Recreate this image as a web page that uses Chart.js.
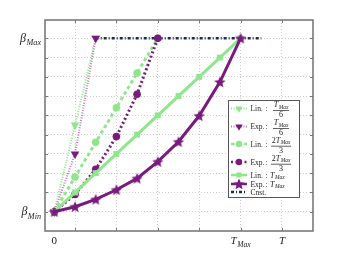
<!DOCTYPE html>
<html>
<head>
<meta charset="utf-8">
<script src="https://cdn.jsdelivr.net/npm/chart.js@4.4.0/dist/chart.umd.min.js"></script>
<style>
  html, body { margin: 0; padding: 0; background: #fff; }
  canvas { display: block; }
</style>
</head>
<body>
<canvas id="grafico" width="346" height="260"></canvas>
<script>
// datos (tiempo en unidades donde T_Max = 9, beta normalizado: beta_Min = 0, beta_Max = 9)
const xT6 = [0, 1, 2];
const linT6 = [0, 4.5, 9];
const expT6 = [0, 3, 9];

const x23 = [0, 1, 2, 3, 4, 5];
const lin23 = [0, 1.8, 3.6, 5.4, 7.2, 9];
const exp23 = [0, 0.9, 2.2, 3.9, 6.1, 9];

const xTmax = [0, 1, 2, 3, 4, 5, 6, 7, 8, 9];
const linTmax = [0, 1, 2, 3, 4, 5, 6, 7, 8, 9];
const expTmax = [0, 0.26, 0.64, 1.14, 1.73, 2.6, 3.63, 4.98, 6.73, 9];

const xCnst = [2, 10];
const cnst = [9, 9];

// ticks / grid
const xGrid = [1, 3, 5, 7, 9, 11];
const yGrid = [0, 1, 2, 3, 4, 5, 6, 7, 8, 9];
const xLabels = [{ v: 0, base: "0", sub: "" }, { v: 9, base: "T", sub: "Max" }, { v: 11, base: "T", sub: "" }];
const yLabels = [{ v: 9, base: "\u03b2", sub: "Max" }, { v: 0, base: "\u03b2", sub: "Min" }];

// leyenda
const legNames = ["Lin.", "Exp.", "Lin.", "Exp.", "Lin.", "Exp.", "Cnst."];
const legNum = ["T", "T", "2T", "2T", "", "", ""];
const legDen = ["6", "6", "3", "3", "", "", ""];
const legPlain = ["", "", "", "", "T", "T", ""];

let verde = "#90e68c";
let morado = "#7b1a7e";
let marino = "#1c2a58";
let serif = '"Liberation Serif", "DejaVu Serif", serif';

function estrella(color, r) {
  const c = document.createElement("canvas");
  const s = Math.ceil(r * 2 + 2);
  c.width = s;
  c.height = s;
  const g = c.getContext("2d");
  g.translate(s / 2, s / 2 + 0.5);
  g.beginPath();
  for (let i = 0; i < 10; i++) {
    const a = -Math.PI / 2 + (i * Math.PI) / 5;
    const rr = i % 2 ? r * 0.45 : r;
    g.lineTo(rr * Math.cos(a), rr * Math.sin(a));
  }
  g.closePath();
  g.fillStyle = color;
  g.fill();
  return c;
}

function puntos(xs, ys) {
  return xs.map((x, i) => ({ x: x, y: ys[i] }));
}

let datasets = [
  {
    label: "Lin. : T_Max/6",
    data: puntos(xT6, linT6),
    borderColor: verde, backgroundColor: verde,
    borderWidth: 2, borderDash: [1, 1.5],
    pointStyle: "triangle", rotation: 180, pointRadius: 5, pointBorderWidth: 0,
    order: 6,
  },
  {
    label: "Exp. : T_Max/6",
    data: puntos(xT6, expT6),
    borderColor: "#b77fb9", backgroundColor: morado,
    borderWidth: 2, borderDash: [1, 1.5],
    pointStyle: "triangle", rotation: 180, pointRadius: 5, pointBorderWidth: 0,
    order: 5,
  },
  {
    label: "Lin. : 2T_Max/3",
    data: puntos(x23, lin23),
    borderColor: verde, backgroundColor: verde,
    borderWidth: 3, borderDash: [3.5, 3],
    pointStyle: "circle", pointRadius: 3.8, pointBorderWidth: 0,
    order: 4,
  },
  {
    label: "Exp. : 2T_Max/3",
    data: puntos(x23, exp23),
    borderColor: morado, backgroundColor: morado,
    borderWidth: 3, borderDash: [2, 2.5],
    pointStyle: "circle", pointRadius: 3.8, pointBorderWidth: 0,
    order: 3,
  },
  {
    label: "Lin. : T_Max",
    data: puntos(xTmax, linTmax),
    borderColor: verde, backgroundColor: verde,
    borderWidth: 3,
    pointStyle: "rect", pointRadius: 4.2, pointBorderWidth: 0,
    order: 2,
  },
  {
    label: "Exp. : T_Max",
    data: puntos(xTmax, expTmax),
    borderColor: morado, backgroundColor: morado,
    borderWidth: 3,
    pointStyle: estrella(morado, 6), pointRadius: 5,
    order: 1,
  },
  {
    label: "Cnst.",
    data: puntos(xCnst, cnst),
    borderColor: marino, backgroundColor: marino,
    borderWidth: 2.5, borderDash: [3, 2, 1, 2],
    pointRadius: 0,
    order: 10,
  },
];

// texto con subindice (cursiva)
function mate(ctx, x, y, base, sub, size, align, bajada) {
  const fb = (/^\d+$/.test(base) ? "" : "italic ") + size + "px " + serif;
  const fs = "italic " + size * 0.68 + "px " + serif;
  ctx.font = fb;
  const wb = ctx.measureText(base).width;
  ctx.font = fs;
  const ws = sub ? ctx.measureText(sub).width + 0.5 : 0;
  const w = wb + ws;
  let x0 = x;
  if (align === "right") x0 = x - w;
  if (align === "center") x0 = x - w / 2;
  ctx.textAlign = "left";
  ctx.textBaseline = "alphabetic";
  ctx.font = fb;
  ctx.fillText(base, x0, y);
  if (sub) {
    ctx.font = fs;
    ctx.fillText(sub, x0 + wb + 0.5, y + (bajada === undefined ? size * 0.3 : bajada));
  }
  return w;
}

function anchoMate(ctx, base, sub, size) {
  ctx.font = "italic " + size + "px " + serif;
  const wb = ctx.measureText(base).width;
  ctx.font = "italic " + size * 0.68 + "px " + serif;
  return wb + (sub ? ctx.measureText(sub).width + 0.5 : 0);
}

const marco = {
  id: "marco",
  afterDraw(chart) {
    const ctx = chart.ctx;
    const a = chart.chartArea;
    const sx = chart.scales.x;
    const sy = chart.scales.y;
    ctx.save();

    // marco completo
    ctx.strokeStyle = "#7a7a7a";
    ctx.lineWidth = 1.6;
    ctx.setLineDash([]);
    ctx.strokeRect(a.left, a.top, a.right - a.left, a.bottom - a.top);

    // marcas hacia adentro
    ctx.lineWidth = 1;
    ctx.beginPath();
    xGrid.forEach((v) => {
      const px = Math.round(sx.getPixelForValue(v)) + 0.5;
      ctx.moveTo(px, a.bottom); ctx.lineTo(px, a.bottom - 3);
      ctx.moveTo(px, a.top); ctx.lineTo(px, a.top + 3);
    });
    yGrid.forEach((v) => {
      const py = Math.round(sy.getPixelForValue(v)) + 0.5;
      ctx.moveTo(a.left, py); ctx.lineTo(a.left + 3, py);
      ctx.moveTo(a.right, py); ctx.lineTo(a.right - 3, py);
    });
    ctx.stroke();

    // etiquetas de los ejes
    ctx.fillStyle = "#222";
    yLabels.forEach((l) => {
      const py = sy.getPixelForValue(l.v);
      mate(ctx, a.left - 4, py + 3.5, l.base, l.sub, 12, "right");
    });
    xLabels.forEach((l) => {
      const px = sx.getPixelForValue(l.v);
      mate(ctx, px, 244, l.base, l.sub, 11, "center");
    });

    // leyenda
    const bx = 228, by = 100, bw = 71, bh = 97;
    ctx.fillStyle = "#fff";
    ctx.fillRect(bx, by, bw, bh);
    ctx.strokeStyle = "#555";
    ctx.lineWidth = 1;
    ctx.strokeRect(bx + 0.5, by + 0.5, bw, bh);
    const filas = [108.5, 126.5, 144, 162, 175, 184, 192];
    const fz = 8;
    filas.forEach((fy, i) => {
      const ds = chart.data.datasets[i];
      ctx.save();
      ctx.strokeStyle = ds.borderColor;
      ctx.lineWidth = Math.min(ds.borderWidth, 2.5);
      ctx.setLineDash(ds.borderDash || []);
      ctx.beginPath();
      ctx.moveTo(231, fy);
      ctx.lineTo(247, fy);
      ctx.stroke();
      ctx.setLineDash([]);
      if (ds.pointRadius > 0) {
        ctx.fillStyle = ds.backgroundColor;
        Chart.helpers.drawPoint(ctx, {
          pointStyle: ds.pointStyle,
          radius: typeof ds.pointStyle === "string" ? ds.pointRadius * 0.85 : ds.pointRadius,
          rotation: ds.rotation || 0,
          borderWidth: 0,
        }, 239, fy);
      }
      ctx.restore();

      ctx.fillStyle = "#222";
      ctx.font = "7.5px " + serif;
      ctx.textAlign = "left";
      ctx.textBaseline = "alphabetic";
      ctx.fillText(legNames[i], 250.5, fy + 2.7);
      if (legNum[i]) {
        ctx.fillText(":", 265.5, fy + 2.7);
        const num = legNum[i];
        const cx = 281;
        ctx.font = fz + "px " + serif;
        const w2 = num.length > 1 ? ctx.measureText("2").width : 0;
        const wt = anchoMate(ctx, "T", "Max", fz);
        ctx.font = fz + "px " + serif;
        const wd = ctx.measureText(legDen[i]).width;
        const wl = Math.max(w2 + wt, wd) + 1.5;
        const x0 = cx - (w2 + wt) / 2;
        ctx.fillStyle = "#222";
        if (num.length > 1) {
          ctx.font = fz + "px " + serif;
          ctx.fillText("2", x0, fy - 1.2);
        }
        mate(ctx, x0 + w2, fy - 1.2, "T", "Max", fz, "left", 1.6);
        ctx.fillRect(cx - wl / 2, fy + 1.8, wl, 0.7);
        ctx.font = fz + "px " + serif;
        ctx.textAlign = "center";
        ctx.fillText(legDen[i], cx, fy + 8.5);
        ctx.textAlign = "left";
      } else if (legPlain[i]) {
        ctx.fillText(":", 265.5, fy + 2.7);
        mate(ctx, 270, fy + 2.5, legPlain[i], "Max", fz, "left", 1.8);
      }
    });
    ctx.restore();
  },
};

let config = {
  type: "line",
  data: { datasets: datasets },
  options: {
    responsive: false,
    animation: false,
    devicePixelRatio: 1,
    layout: { padding: { left: 45, right: 33, top: 20, bottom: 29 } },
    plugins: { legend: { display: false }, tooltip: { enabled: false } },
    elements: { line: { tension: 0 } },
    scales: {
      x: {
        type: "linear",
        min: -0.45,
        max: 12.5,
        afterBuildTicks: (s) => { s.ticks = xGrid.map((v) => ({ value: v })); },
        ticks: { display: false },
        grid: { color: "#cfcfcf", lineWidth: 1, drawTicks: false },
        border: { display: false, dash: [1, 2] },
      },
      y: {
        type: "linear",
        min: -1,
        max: 9.95,
        afterBuildTicks: (s) => { s.ticks = yGrid.map((v) => ({ value: v })); },
        ticks: { display: false },
        grid: { color: "#cfcfcf", lineWidth: 1, drawTicks: false },
        border: { display: false, dash: [1, 2] },
      },
    },
  },
  plugins: [marco],
};

var miGrafico = new Chart(document.getElementById("grafico"), config);
</script>
</body>
</html>
